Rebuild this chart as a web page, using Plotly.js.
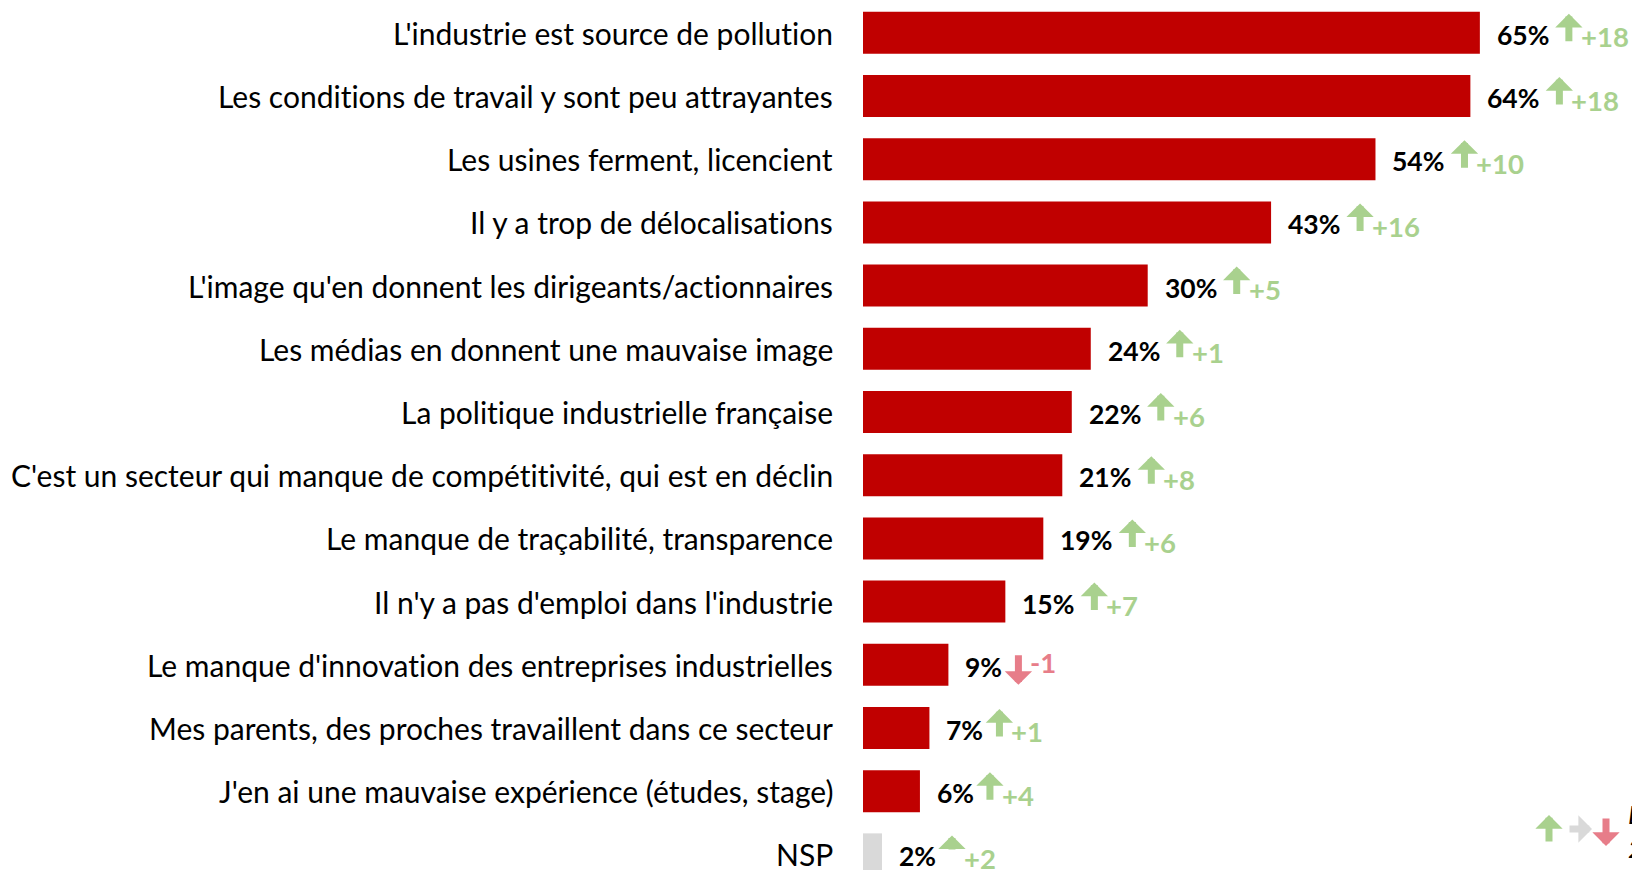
<!DOCTYPE html>
<html><head><meta charset="utf-8">
<script src="https://cdn.plot.ly/plotly-3.0.1.min.js"></script>
<style>html,body{margin:0;padding:0;background:#fff;overflow:hidden}#chart{width:1632px;height:870px;}
svg text{font-variant-ligatures:none;font-feature-settings:"liga" 0;}</style>
</head><body><div id="chart"></div>
<script>
const categories = [
  "L'industrie est source de pollution",
  "Les conditions de travail y sont peu attrayantes",
  "Les usines ferment, licencient",
  "Il y a trop de délocalisations",
  "L'image qu'en donnent les dirigeants/actionnaires",
  "Les médias en donnent une mauvaise image",
  "La politique industrielle française",
  "C'est un secteur qui manque de compétitivité, qui est en déclin",
  "Le manque de traçabilité, transparence",
  "Il n'y a pas d'emploi dans l'industrie",
  "Le manque d'innovation des entreprises industrielles",
  "Mes parents, des proches travaillent dans ce secteur",
  "J'en ai une mauvaise expérience (études, stage)",
  "NSP"
];
const values = [65, 64, 54, 43, 30, 24, 22, 21, 19, 15, 9, 7, 6, 2];
const deltas = [18, 18, 10, 16, 5, 1, 6, 8, 6, 7, -1, 1, 4, 2];
const legendNote = ["Évolution", "2022"];

const RED = '#c00000', GREY = '#d9d9d9', GREEN = '#a9d18e', PINK = '#e77d89';
const FONT = 'Lato, "Open Sans", sans-serif';

const barColors = categories.map(c => c === 'NSP' ? GREY : RED);

const trace = {
  type: 'bar', orientation: 'h',
  y: categories, x: values,
  marker: {color: barColors, line: {width: 0}},
  hoverinfo: 'skip'
};

const AW = 7, AS = 0.65;
const ann = [];
categories.forEach((c, i) => {
  ann.push({x: 0, y: c, xref: 'x', yref: 'y', xanchor: 'right', yanchor: 'middle',
    xshift: -28, text: c, showarrow: false,
    font: {family: FONT, size: 30, color: '#000'}});
  const lab = values[i] + '%';
  ann.push({x: values[i], y: c, xref: 'x', yref: 'y', xanchor: 'left', yanchor: 'middle',
    xshift: 15, yshift: -2, text: '<b>' + lab + '</b>', showarrow: false,
    font: {family: FONT, size: 26.5, color: '#000'}});
  const ax = lab.length === 3 ? 89 : 70;
  const up = deltas[i] >= 0;
  const col = up ? GREEN : PINK;
  ann.push({x: values[i], y: c, xref: 'x', yref: 'y', text: '', showarrow: true,
    xshift: ax, yshift: up ? 19 : -20, ax: 0, ay: up ? 29 : -31,
    arrowcolor: col, arrowwidth: AW, arrowhead: 1, arrowsize: AS});
  ann.push({x: values[i], y: c, xref: 'x', yref: 'y', xanchor: 'left', yanchor: 'middle',
    xshift: ax + 10, yshift: up ? -4 : 2, text: '<b>' + (up ? '+' : '') + deltas[i] + '</b>', showarrow: false,
    font: {family: FONT, size: 27.5, color: col}});
});

// legend arrows (bottom right)
const px = v => (v - 863) / 769, py = v => 1 - v / 870;
ann.push({x: px(1549), y: py(815), xref: 'paper', yref: 'paper', text: '', showarrow: true,
  ax: 0, ay: 28, arrowcolor: GREEN, arrowwidth: AW, arrowhead: 1, arrowsize: AS});
ann.push({x: px(1592), y: py(829), xref: 'paper', yref: 'paper', text: '', showarrow: true,
  ax: -24, ay: 0, arrowcolor: GREY, arrowwidth: AW, arrowhead: 1, arrowsize: AS});
ann.push({x: px(1606), y: py(846), xref: 'paper', yref: 'paper', text: '', showarrow: true,
  ax: 0, ay: -29, arrowcolor: PINK, arrowwidth: AW, arrowhead: 1, arrowsize: AS});
ann.push({x: px(1626), y: py(831), xref: 'paper', yref: 'paper', xanchor: 'left', yanchor: 'middle',
  text: '<i>' + legendNote.join('<br>') + '</i>', showarrow: false, align: 'left',
  font: {family: FONT, size: 26, color: '#000'}});

const layout = {
  width: 1632, height: 870,
  margin: {l: 863, r: 0, t: 0, b: 0, pad: 0},
  paper_bgcolor: '#fff', plot_bgcolor: '#fff',
  bargap: 0.335,
  showlegend: false,
  xaxis: {range: [0, 81.03], visible: false, fixedrange: true},
  yaxis: {type: 'category', categoryorder: 'array', categoryarray: categories,
    range: [13.247, -0.519], autorange: false, showticklabels: false, showgrid: false,
    zeroline: false, showline: false, ticks: '', fixedrange: true},
  annotations: ann
};

Plotly.newPlot('chart', [trace], layout, {displayModeBar: false, staticPlot: true});
</script>
</body></html>
